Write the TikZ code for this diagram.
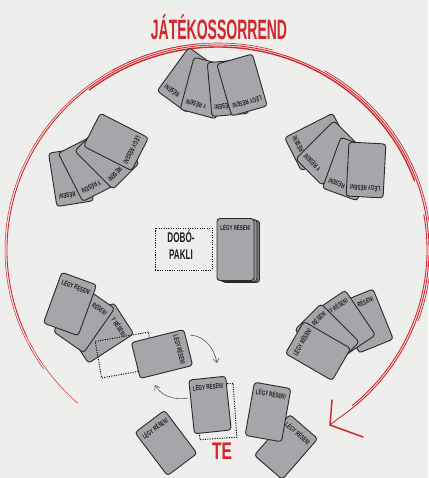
\documentclass[tikz,border=0pt]{standalone}
\usepackage{fontspec}
\usepackage{graphicx}
\newfontfamily\lsans{Liberation Sans}
\usetikzlibrary{arrows.meta}
\definecolor{bg}{HTML}{EEEEEC}
\definecolor{cardfill}{HTML}{A4A6A9}
\definecolor{cardline}{HTML}{2A2A2A}
\definecolor{cardink}{HTML}{1E1E1E}
\definecolor{brush}{HTML}{D3262C}
\definecolor{arrowgrey}{HTML}{5A5A5A}
\tikzset{
  cardbox/.style={draw=cardline, fill=cardfill, line width=0.9pt, rounded corners=3pt,
    minimum width=37pt, minimum height=54pt, inner sep=0pt},
  cardtxt/.style={font=\lsans\bfseries\fontsize{7}{8}\selectfont, text=cardink, inner sep=0pt},
  dotbox/.style={draw=black, line width=0.9pt, dash pattern=on 1.1pt off 1.3pt, inner sep=0pt},
  redtxt/.style={text=brush, inner sep=0pt},
  bstroke/.style={draw=brush, line cap=round},
  turnarrow/.style={draw=arrowgrey, line width=0.6pt, -{Straight Barb[length=4pt,width=6pt]}}
}
\newcommand\cardlabel[1]{\scalebox{0.64}[1]{#1}}
% name, x, y, angle, visible label, label x-offset
\newcommand\playcard[6]{%
  \begin{scope}[shift={(#2,-#3)},rotate=#4,transform shape]
    \node[cardbox] (#1) at (0,0) {};
    \node[cardtxt] (#1-t) at (#6,18.5) {\cardlabel{#5}};
  \end{scope}}
\newcommand\fullcard[4]{\playcard{#1}{#2}{#3}{#4}{LÉGY RÉSEN!}{0}}
\newcommand\rcard[4]{\playcard{#1}{#2}{#3}{#4}{RÉSEN!}{6.75}}
\newcommand\ycard[4]{\playcard{#1}{#2}{#3}{#4}{Y RÉSEN!}{4.6}}
\newcommand\gcard[4]{\playcard{#1}{#2}{#3}{#4}{GY RÉSEN!}{2.8}}
\begin{document}
\begin{tikzpicture}[x=1pt,y=1pt]
\fill[bg] (0,0) rectangle (428,-478);
\useasboundingbox (0,0) rectangle (428,-478);

% ---- red turn-order circle (brush strokes)
\coordinate (tip) at (330,-425);
\coordinate (barbA) at (332,-400);
\coordinate (barbB) at (363,-437);
\begin{scope}[shift={(218,-250)}]
  \draw[bstroke, line width=0.5pt] (228.4:211 and 205) arc[start angle=228.4, end angle=205, x radius=211, y radius=205];
  \draw[bstroke, line width=0.9pt] (205:211 and 205) arc[start angle=205, end angle=-55, x radius=211, y radius=205] -- (tip);
  \draw[bstroke, line width=0.5pt] (215:213 and 207) arc[start angle=215, end angle=150, x radius=213, y radius=207];
  \draw[bstroke, line width=0.6pt] (150:213 and 207) arc[start angle=150, end angle=95, x radius=213, y radius=207];
  \draw[bstroke, line width=1.4pt] (128:209 and 203) arc[start angle=128, end angle=20, x radius=209, y radius=203];
  \draw[bstroke, line width=0.6pt] (120:212 and 207) arc[start angle=120, end angle=75, x radius=212, y radius=207];
  \draw[bstroke, line width=0.7pt] (60:213 and 207) arc[start angle=60, end angle=-20, x radius=213, y radius=207];
  \draw[bstroke, line width=0.9pt] (10:209 and 203) arc[start angle=10, end angle=-50, x radius=209, y radius=203];
\end{scope}
\draw[bstroke, line width=1.5pt] (tip) -- (barbA);
\draw[bstroke, line width=1.5pt] (tip) -- (barbB);

% ---- title
\node[redtxt, font=\lsans\bfseries\fontsize{28}{30}\selectfont] (title) at (219,-27) {\scalebox{0.5}[1]{JÁTÉKOSSORREND}};

% ---- top player
\rcard{t1}{188}{80}{144}
\ycard{t2}{205}{88}{165}
\rcard{t3}{228}{88}{185}
\fullcard{t4}{242}{85}{196}

% ---- upper-left player
\rcard{l1}{71}{177}{189}
\ycard{l2}{87}{169}{207}
\rcard{l3}{107}{157}{225}
\fullcard{l4}{116}{142}{243}

% ---- upper-right player
\rcard{r1}{317}{142}{117}
\ycard{r2}{328}{153}{135}
\rcard{r3}{349}{169}{160}
\fullcard{r4}{366}{170}{177}

% ---- lower-right player
\rcard{p4}{366}{321}{22}
\gcard{p3}{345}{323}{34}
\rcard{p2}{327}{336}{45}
\fullcard{p1}{318}{351}{60}

% ---- draw pile
\node[cardbox, minimum height=62pt, fill=cardfill!75!black] (deck3) at (241,-251.5) {};
\node[cardbox, minimum height=62pt, fill=cardfill!88!black] (deck2) at (238.5,-250.5) {};
\node[cardbox, minimum height=62pt] (deck) at (235.5,-249.5) {};
\node[cardtxt] (deck-t) at (235.5,-227) {\cardlabel{LÉGY RÉSEN!}};
\node[dotbox, minimum width=57pt, minimum height=42pt] (dobo) at (183.5,-249) {};
\node[inner sep=0pt, align=center, font=\lsans\bfseries\fontsize{14}{16.6}\selectfont, text=cardink] (dobo-t) at (181,-245) {\scalebox{0.58}[1]{DOBÓ-}\\\scalebox{0.58}[1]{PAKLI}};

% ---- lower-left player
\ycard{c3}{101}{333}{-57}
\rcard{c2}{84}{320}{-35}
\fullcard{c1}{70}{304}{-20}
\node[dotbox, minimum width=54pt, minimum height=37pt, rotate=10] (played) at (125,-355) {};
\fullcard{d1}{162}{354}{-76}

% ---- you (TE)
\node[dotbox, minimum width=37pt, minimum height=54pt, rotate=4] (slot) at (216.5,-411.5) {};
\fullcard{e1}{210}{405}{6}
\fullcard{f1}{166}{443}{37}
\fullcard{h1}{286}{447}{-41}
\fullcard{g1}{268}{412}{-10}
\node[redtxt, font=\lsans\bfseries\fontsize{24}{26}\selectfont] (te) at (222,-451) {\scalebox{0.65}[1]{TE}};

% ---- grey turn arrows
\coordinate (a1s) at (190,-335);
\coordinate (a1e) at (217,-363);
\coordinate (a2s) at (188,-398);
\coordinate (a2e) at (155,-385);
\draw[turnarrow] (a1s) .. controls (205,-336) and (214,-348) .. (a1e);
\draw[turnarrow] (a2s) .. controls (172,-401) and (160,-394) .. (a2e);
\end{tikzpicture}
\end{document}
